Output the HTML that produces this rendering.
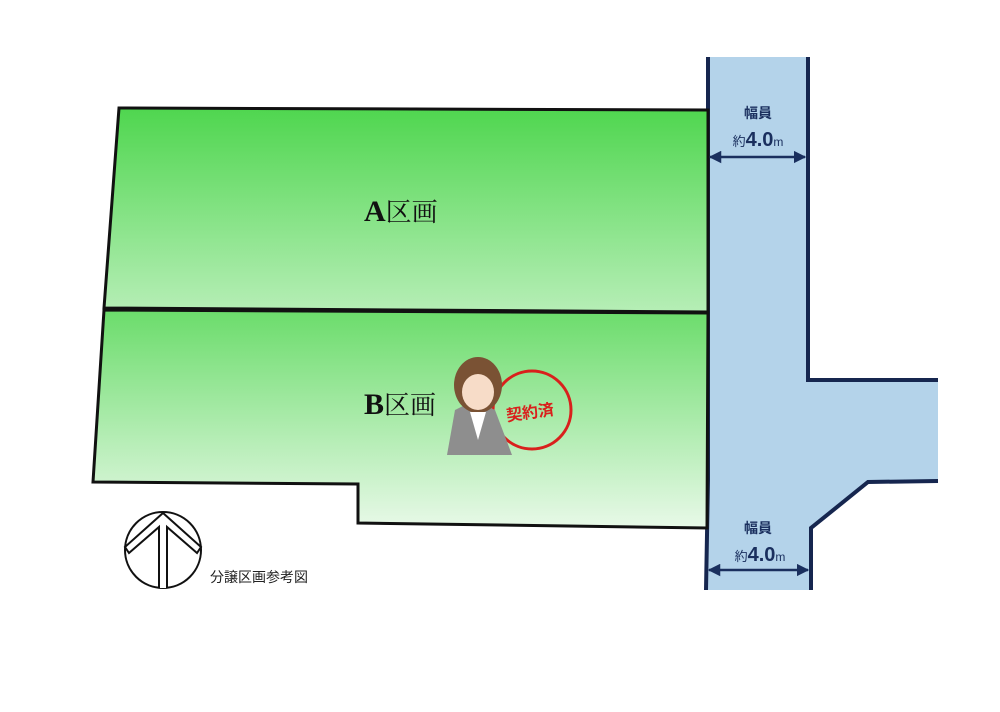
<!DOCTYPE html>
<html><head><meta charset="utf-8"><style>
body{margin:0;background:#fff;width:1000px;height:707px;overflow:hidden}
</style></head><body>
<svg width="1000" height="707" xmlns="http://www.w3.org/2000/svg" style="font-family:'Liberation Sans','Noto Sans CJK JP',sans-serif">
<defs>
<linearGradient id="ga" x1="0" y1="0" x2="0" y2="1"><stop offset="0" stop-color="#4fd64f"/><stop offset="1" stop-color="#b6eeb6"/></linearGradient>
<linearGradient id="gb" x1="0" y1="0" x2="0" y2="1"><stop offset="0" stop-color="#6bdc6b"/><stop offset="1" stop-color="#e8f9e8"/></linearGradient>
<marker id="ar" viewBox="0 0 10 10" refX="9" refY="5" markerWidth="5" markerHeight="5" orient="auto-start-reverse"><path d="M0,0L10,5L0,10z" fill="#1a2f5e"/></marker>
</defs>
<path d="M708,57 L808,57 L808,380 L938,380 L938,481 L868,482 L811,528 L811,590 L706,590 L708,480 Z" fill="#b4d3ea"/>
<path d="M708,57 L708,480 L706,590" fill="none" stroke="#16264f" stroke-width="4"/>
<path d="M808,57 L808,380 L938,380" fill="none" stroke="#16264f" stroke-width="4"/>
<path d="M938,481 L868,482 L811,528 L811,590" fill="none" stroke="#16264f" stroke-width="4"/>
<path d="M119,108 L708,110 L708,312 L104,308 Z" fill="url(#ga)" stroke="#111" stroke-width="3"/>
<path d="M104,310 L708,313 L707,528 L358,523 L358,484 L93,482 Z" fill="url(#gb)" stroke="#111" stroke-width="3"/>
<text x="364" y="221" font-family="Liberation Serif,'Noto Serif CJK SC',serif" font-size="30" font-weight="bold" fill="#111">A<tspan font-size="26" font-weight="normal">区画</tspan></text>
<text x="364" y="414" font-family="Liberation Serif,'Noto Serif CJK SC',serif" font-size="30" font-weight="bold" fill="#111">B<tspan font-size="26" font-weight="normal">区画</tspan></text>
<circle cx="532" cy="410" r="39" fill="none" stroke="#d9201c" stroke-width="3"/>
<text x="506" y="418" font-size="16" font-weight="bold" fill="#d9201c" transform="rotate(-8 530 412)">契約済</text>
<path d="M447,455 L455,410 L475,400 L495,410 L512,455 Z" fill="#8e8e8e"/>
<ellipse cx="478" cy="385" rx="24" ry="28" fill="#7a5234"/>
<ellipse cx="478" cy="392" rx="16" ry="18" fill="#f7dcc8"/>
<path d="M470,412 L478,440 L486,412 Z" fill="#fff"/>
<g fill="#1a2f5e" text-anchor="middle">
<text x="758" y="118" font-size="14" font-weight="bold">幅員</text>
<text x="758" y="146"><tspan font-size="13">約</tspan><tspan font-size="20" font-weight="bold">4.0</tspan><tspan font-size="12">m</tspan></text>
<text x="758" y="533" font-size="14" font-weight="bold">幅員</text>
<text x="760" y="561"><tspan font-size="13">約</tspan><tspan font-size="20" font-weight="bold">4.0</tspan><tspan font-size="12">m</tspan></text>
</g>
<line x1="710" y1="157" x2="805" y2="157" stroke="#1a2f5e" stroke-width="2.5" marker-start="url(#ar)" marker-end="url(#ar)"/>
<line x1="709" y1="570" x2="808" y2="570" stroke="#1a2f5e" stroke-width="2.5" marker-start="url(#ar)" marker-end="url(#ar)"/>
<circle cx="163" cy="550" r="38" fill="#fff" stroke="#111" stroke-width="2"/>
<path d="M159,588 L159,527 L129,553 L125,547 L163,513 L201,547 L197,553 L167,527 L167,588" fill="#fff" stroke="#111" stroke-width="2"/>
<text x="210" y="582" font-size="14" fill="#222">分譲区画参考図</text>
</svg>
</body></html>
